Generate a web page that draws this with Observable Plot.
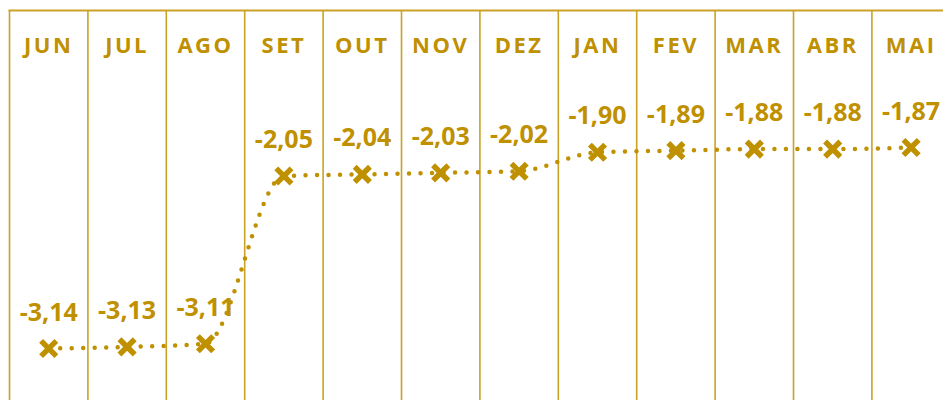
<!DOCTYPE html>
<html><head><meta charset="utf-8">
<script src="https://cdn.jsdelivr.net/npm/d3@7"></script>
<script src="https://cdn.jsdelivr.net/npm/@observablehq/plot@0.6"></script>
<style>body{margin:0;background:#fff;} svg{display:block;}</style>
</head><body><div id="chart"></div>
<script>
const months = ["JUN","JUL","AGO","SET","OUT","NOV","DEZ","JAN","FEV","MAR","ABR","MAI"];
const values = [-3.14,-3.13,-3.11,-2.05,-2.04,-2.03,-2.02,-1.90,-1.89,-1.88,-1.88,-1.87];
const gold = "#BF9000";
const grid = "#C9A227";
const data = months.map((m,i)=>({month:m, i, pos:i+0.5, value:values[i]}));
const fmt = v => v.toFixed(2).replace(".", ",");
const font = "'Open Sans', Lato, sans-serif";
const chart = Plot.plot({
  width: 943, height: 400,
  marginTop: 10, marginLeft: 9, marginRight: 0, marginBottom: 0,
  x: {domain: [0, 12], range: [9, 949.8], axis: null},
  y: {domain: [-3.14, -1.87], range: [348, 147], axis: null},
  style: {fontFamily: font, background: "#fff"},
  marks: [
    Plot.ruleX(data, {x: "i", stroke: grid, strokeWidth: 1.6}),
    Plot.frame({anchor: "top", stroke: grid, strokeWidth: 2}),
    Plot.line(data, {x: "pos", y: "value", stroke: gold, strokeWidth: 4.5, strokeDasharray: "0 11.5", strokeLinecap: "round", curve: "monotone-x"}),
    Plot.dot(data, {x: "pos", y: "value", symbol: "times", r: 7, stroke: gold, strokeWidth: 5.5}),
    Plot.text(data, {x: "pos", y: "value", text: d => fmt(d.value), dy: -36, fill: gold, fontSize: 25, fontWeight: "bold"}),
    Plot.text(data, {x: "pos", text: "month", frameAnchor: "top", dy: 27, fill: gold, fontSize: 22, fontWeight: "bold"})
  ]
});
document.getElementById("chart").append(chart);
const groups = chart.querySelectorAll("g[aria-label='text']");
if (groups.length) groups[groups.length-1].setAttribute("letter-spacing", "2.5px");
</script>
</body></html>
